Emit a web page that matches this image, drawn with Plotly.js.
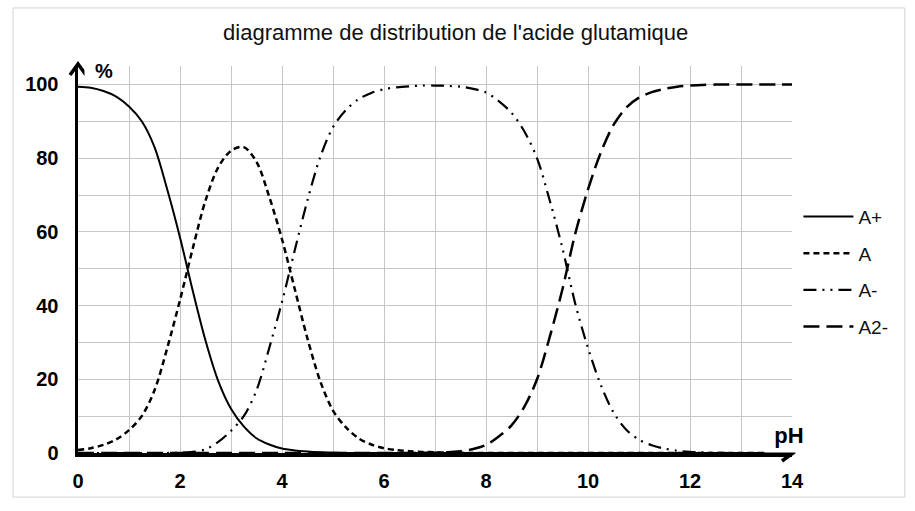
<!DOCTYPE html>
<html>
<head>
<meta charset="utf-8">
<script src="https://cdn.plot.ly/plotly-3.0.1.min.js"></script>
<style>
  html, body { margin: 0; padding: 0; background: #ffffff; }
  #chart { width: 915px; height: 511px; }
</style>
</head>
<body>
<div id="chart"></div>
<script>
// pH values at which the species fractions are tabulated (step 0.25)
const pH = [0, 0.25, 0.5, 0.75, 1, 1.25, 1.5, 1.75, 2, 2.25, 2.5, 2.75, 3, 3.25, 3.5, 3.75,
            4, 4.25, 4.5, 4.75, 5, 5.25, 5.5, 5.75, 6, 6.25, 6.5, 6.75, 7, 7.25, 7.5, 7.75,
            8, 8.25, 8.5, 8.75, 9, 9.25, 9.5, 9.75, 10, 10.25, 10.5, 10.75, 11, 11.25, 11.5, 11.75,
            12, 12.25, 12.5, 12.75, 13, 13.25, 13.5, 13.75, 14];

// percentage of each form of glutamic acid
const aPlus = [99.4, 99.1, 98.2, 96.7, 94, 90, 83, 71.5, 58.5, 44, 30.5, 19.5, 12, 7.2, 4, 2.3,
               1.2, 0.7, 0.4, 0.2, 0.1, 0, 0, 0, 0, 0, 0, 0, 0, 0, 0, 0,
               0, 0, 0, 0, 0, 0, 0, 0, 0, 0, 0, 0, 0, 0, 0, 0,
               0, 0, 0, 0, 0, 0, 0, 0, 0];
const aZero = [0.8, 1.3, 2.2, 3.7, 6.2, 10, 17, 28.5, 41.5, 55.5, 68.5, 77.5, 82, 83, 79, 69.5,
               58, 44.5, 31, 19.5, 11.5, 7, 4, 2.3, 1.3, 0.8, 0.5, 0.3, 0.2, 0.1, 0.05, 0,
               0, 0, 0, 0, 0, 0, 0, 0, 0, 0, 0, 0, 0, 0, 0, 0,
               0, 0, 0, 0, 0, 0, 0, 0, 0];
const aMinus = [0, 0, 0, 0, 0, 0, 0, 0, 0.1, 0.3, 1, 3, 6, 10, 17, 28.5,
                41, 55, 68.6, 80.3, 88.4, 93, 96, 97.7, 98.7, 99.2, 99.5, 99.7, 99.7, 99.6, 99.4, 98.8,
                97.8, 95.5, 92.3, 87.3, 80, 68.5, 55.5, 40.5, 28.5, 18.5, 11, 6.3, 3.6, 2.1, 1.2, 0.6,
                0.3, 0.15, 0.05, 0, 0, 0, 0, 0, 0];
const a2Minus = [0, 0, 0, 0, 0, 0, 0, 0, 0, 0, 0, 0, 0, 0, 0, 0,
                 0, 0, 0, 0, 0, 0, 0, 0, 0, 0, 0.02, 0.05, 0.1, 0.2, 0.5, 1.1,
                 2.2, 4.5, 7.5, 12.5, 20, 31.5, 44.5, 59.5, 71.5, 81.5, 89, 93.7, 96.4, 97.9, 98.8, 99.4,
                 99.7, 99.85, 99.95, 100, 100, 100, 100, 100, 100];

const seriesNames = ['A+', 'A', 'A-', 'A2-'];
const seriesValues = [aPlus, aZero, aMinus, a2Minus];
const seriesDash = ['solid', '6px,4px', '13px,6px,2px,6px,2px,6px', '16px,7px'];
const seriesWidth = [2, 2.5, 2.2, 2.5];

const titleText = "diagramme de distribution de l'acide glutamique";
const xTickVals = [0, 2, 4, 6, 8, 10, 12, 14];
const yTickVals = [0, 20, 40, 60, 80, 100];

const FONT = '"Liberation Sans", Arial, Helvetica, sans-serif';

const traces = seriesNames.map((name, i) => ({
  type: 'scatter',
  mode: 'lines',
  name: name,
  legendgroup: name,
  x: pH,
  y: seriesValues[i],
  line: { color: '#000000', width: seriesWidth[i], dash: seriesDash[i], shape: 'spline', smoothing: 0.9 },
  hoverinfo: 'x+y+name'
}));

const gridColor = '#c6c6c6';

const layout = {
  width: 915,
  height: 511,
  margin: { l: 78, r: 123, t: 66, b: 58 },
  paper_bgcolor: '#ffffff',
  plot_bgcolor: '#ffffff',
  font: { family: FONT, color: '#000000' },
  title: {
    text: titleText,
    font: { family: FONT, size: 22, color: '#111111' },
    x: 0.498, xref: 'container', xanchor: 'center',
    y: 0.937, yref: 'container', yanchor: 'middle'
  },
  showlegend: true,
  legend: {
    x: 1.009, xanchor: 'left',
    y: 0.66, yanchor: 'top',
    font: { family: FONT, size: 19, color: '#111111' },
    traceorder: 'grouped',
    tracegroupgap: 9,
    itemwidth: 50,
    bgcolor: 'rgba(0,0,0,0)'
  },
  xaxis: {
    range: [0, 14],
    tickvals: xTickVals,
    ticktext: xTickVals.map(String),
    showgrid: true,
    gridcolor: gridColor,
    gridwidth: 1,
    minor: { dtick: 1, tick0: 0, showgrid: true, gridcolor: gridColor, gridwidth: 1 },
    zeroline: false,
    showline: true,
    linecolor: '#000000',
    linewidth: 3.5,
    ticks: '',
    ticklabelstandoff: 7,
    tickfont: { family: FONT, size: 20, weight: 'bold', color: '#000000' },
    fixedrange: true
  },
  yaxis: {
    range: [0, 105],
    tickvals: yTickVals,
    ticktext: yTickVals.map(String),
    showgrid: true,
    gridcolor: gridColor,
    gridwidth: 1,
    minor: { dtick: 10, tick0: 0, showgrid: true, gridcolor: gridColor, gridwidth: 1 },
    zeroline: false,
    showline: true,
    linecolor: '#000000',
    linewidth: 3.5,
    ticks: '',
    ticklabelstandoff: 12,
    tickfont: { family: FONT, size: 20, weight: 'bold', color: '#000000' },
    fixedrange: true
  },
  shapes: [
    // outer frame of the figure
    { type: 'rect', xref: 'paper', yref: 'paper', x0: -0.091, x1: 1.158, y0: -0.114, y1: 1.15,
      line: { color: '#d4d4d4', width: 1 }, layer: 'below' },
    // arrow head at the end of the pH axis
    { type: 'path', xref: 'paper', yref: 'paper', xsizemode: 'pixel', ysizemode: 'pixel',
      xanchor: 1, yanchor: 0, path: 'M -10,8 L 1,0 L -10,-8',
      line: { color: '#000000', width: 3.5 } },
    // arrow head at the top of the % axis
    { type: 'path', xref: 'paper', yref: 'paper', xsizemode: 'pixel', ysizemode: 'pixel',
      xanchor: 0, yanchor: 1, path: 'M -8,-9 L 0,2 L 8,-9',
      line: { color: '#000000', width: 3.5 } }
  ],
  annotations: [
    { text: '%', xref: 'paper', yref: 'paper', x: 0.036, y: 0.987, xanchor: 'center', yanchor: 'middle',
      showarrow: false, bgcolor: '#ffffff', width: 36, height: 22,
      font: { family: FONT, size: 20, weight: 'bold', color: '#000000' } },
    { text: 'pH', xref: 'paper', yref: 'paper', x: 0.996, y: 0.046, xanchor: 'center', yanchor: 'middle',
      showarrow: false, bgcolor: '#ffffff', width: 46, height: 32,
      font: { family: FONT, size: 22, weight: 'bold', color: '#000000' } }
  ]
};

Plotly.newPlot('chart', traces, layout, { displayModeBar: false, staticPlot: true });
</script>
</body>
</html>
